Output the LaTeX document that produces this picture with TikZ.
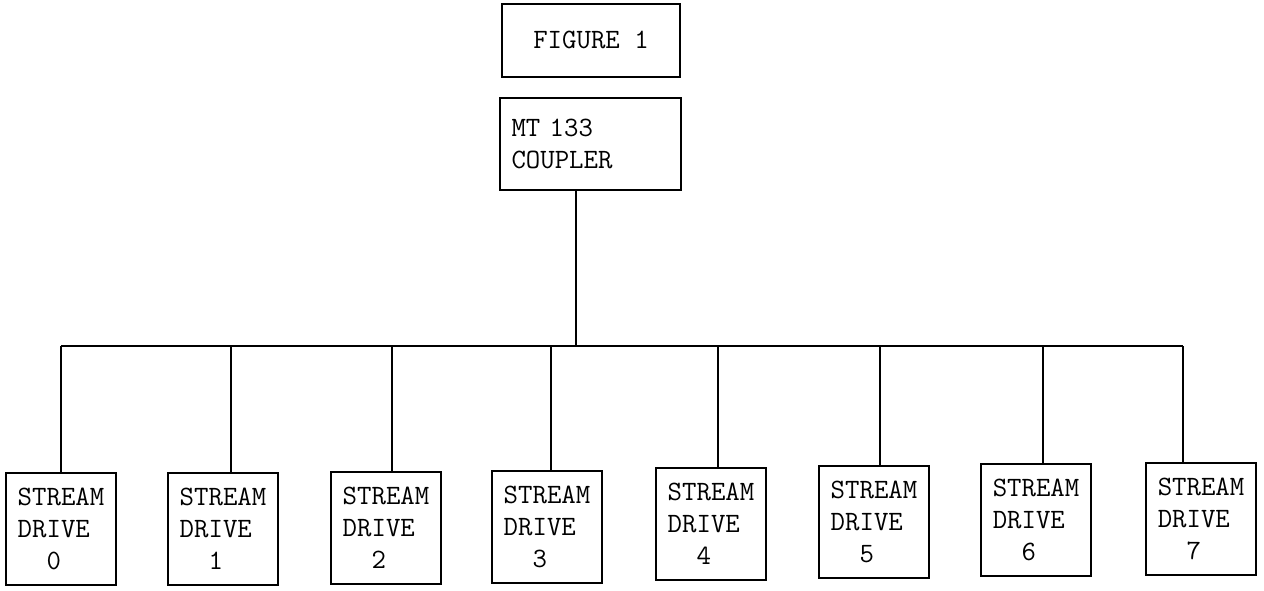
\documentclass[tikz,border=0pt]{standalone}
\usepackage{tikz}
\usetikzlibrary{positioning,calc}

\begin{document}
\begin{tikzpicture}[x=1pt, y=-1pt,
  box/.style={draw, line width=2pt, font=\ttfamily\fontsize{28}{32}\selectfont,
              align=left, inner sep=0pt},
  drvbox/.style={box, minimum width=110pt, minimum height=112pt},
  ln/.style={line width=2pt}]
\useasboundingbox (0,0) rectangle (1264,590);
\node[box, minimum width=178pt, minimum height=73pt] (fig) at (591,40) {FIGURE 1};
\node[box, minimum width=181pt, minimum height=92pt, text width=158pt] (cpl) at (590.5,144) {MT 133\\COUPLER};
\node[drvbox] (d0) at (61,529)   {STREAM\\DRIVE\\~~0};
\node[drvbox] (d1) at (223,529)  {STREAM\\DRIVE\\~~1};
\node[drvbox] (d2) at (386,528)  {STREAM\\DRIVE\\~~2};
\node[drvbox] (d3) at (547,527)  {STREAM\\DRIVE\\~~3};
\node[drvbox] (d4) at (711,524)  {STREAM\\DRIVE\\~~4};
\node[drvbox] (d5) at (874,522)  {STREAM\\DRIVE\\~~5};
\node[drvbox] (d6) at (1036,520) {STREAM\\DRIVE\\~~6};
\node[drvbox] (d7) at (1201,519) {STREAM\\DRIVE\\~~7};
% bus
\coordinate (busl) at (61,346);
\coordinate (busr) at (1183,346);
\draw[ln] ([xshift=-15pt]cpl.south) -- ([xshift=-15pt]cpl.south |- busl);
\draw[ln] (busl) -- (busr);
\draw[ln] (busl) -- (d0.north);
\draw[ln] ([xshift=8pt]d1.north |- busl) -- ([xshift=8pt]d1.north);
\draw[ln] ([xshift=6pt]d2.north |- busl) -- ([xshift=6pt]d2.north);
\draw[ln] ([xshift=4pt]d3.north |- busl) -- ([xshift=4pt]d3.north);
\draw[ln] ([xshift=7pt]d4.north |- busl) -- ([xshift=7pt]d4.north);
\draw[ln] ([xshift=6pt]d5.north |- busl) -- ([xshift=6pt]d5.north);
\draw[ln] ([xshift=7pt]d6.north |- busl) -- ([xshift=7pt]d6.north);
\draw[ln] (busr) -- (busr |- d7.north);
\end{tikzpicture}
\end{document}
